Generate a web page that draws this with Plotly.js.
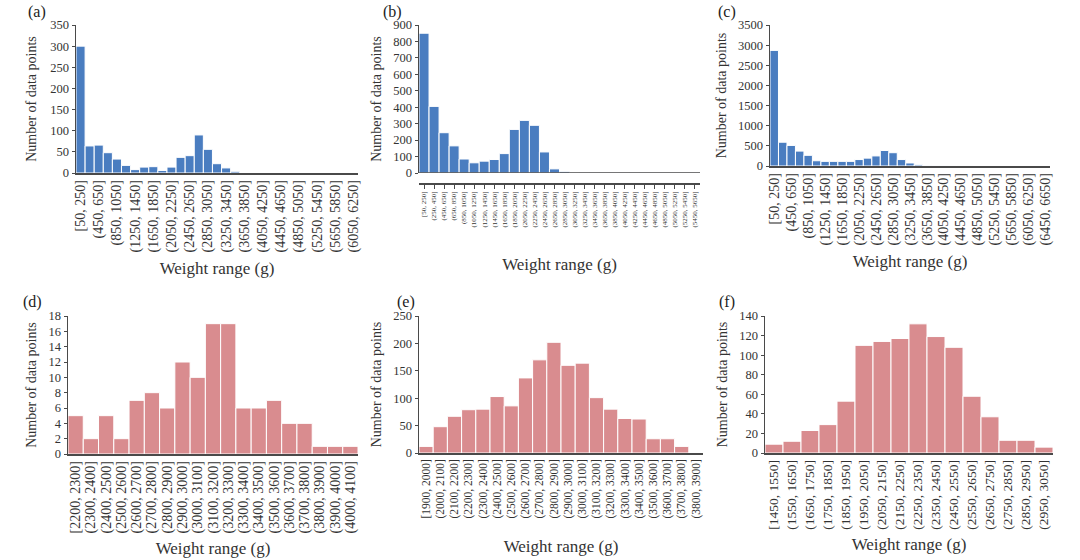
<!DOCTYPE html>
<html>
<head>
<meta charset="utf-8">
<script src="https://cdn.plot.ly/plotly-3.0.1.min.js"></script>
<style>html,body{margin:0;padding:0;background:#fff;}#chart{width:1080px;height:560px;}</style>
</head>
<body>
<div id="chart"></div>
<script>
// Weight-range bin labels for panels (a), (b), (c)
const binsWide = ["[50, 250]","(250, 450]","(450, 650]","(650, 850]","(850, 1050]","(1050, 1250]","(1250, 1450]","(1450, 1650]","(1650, 1850]","(1850, 2050]","(2050, 2250]","(2250, 2450]","(2450, 2650]","(2650, 2850]","(2850, 3050]","(3050, 3250]","(3250, 3450]","(3450, 3650]","(3650, 3850]","(3850, 4050]","(4050, 4250]","(4250, 4450]","(4450, 4650]","(4650, 4850]","(4850, 5050]","(5050, 5250]","(5250, 5450]","(5450, 5650]","(5650, 5850]","(5850, 6050]","(6050, 6250]","(6250, 6450]","(6450, 6650]"];
const catsA = binsWide.slice(0, 31);
const catsB = binsWide.slice(0, 28);
const catsC = binsWide.slice(0, 33);
const catsD = ["[2200, 2300]","(2300, 2400]","(2400, 2500]","(2500, 2600]","(2600, 2700]","(2700, 2800]","(2800, 2900]","(2900, 3000]","(3000, 3100]","(3100, 3200]","(3200, 3300]","(3300, 3400]","(3400, 3500]","(3500, 3600]","(3600, 3700]","(3700, 3800]","(3800, 3900]","(3900, 4000]","(4000, 4100]"];
const catsE = ["[1900, 2000]","(2000, 2100]","(2100, 2200]","(2200, 2300]","(2300, 2400]","(2400, 2500]","(2500, 2600]","(2600, 2700]","(2700, 2800]","(2800, 2900]","(2900, 3000]","(3000, 3100]","(3100, 3200]","(3200, 3300]","(3300, 3400]","(3400, 3500]","(3500, 3600]","(3600, 3700]","(3700, 3800]","(3800, 3900]"];
const catsF = ["[1450, 1550]","(1550, 1650]","(1650, 1750]","(1750, 1850]","(1850, 1950]","(1950, 2050]","(2050, 2150]","(2150, 2250]","(2250, 2350]","(2350, 2450]","(2450, 2550]","(2550, 2650]","(2650, 2750]","(2750, 2850]","(2850, 2950]","(2950, 3050]"];

// Counts (number of data points)
const countsA = [300,64,66,48,33,18,8,14,15,6,14,37,41,90,56,22,12,4,0,0,0,0,0,0,0,0,0,0,0,0,0];
const countsB = [850,405,245,165,85,62,72,82,118,265,320,290,128,25,10,3,2,1,1,1,1,2,1,1,1,1,1,1];
const countsC = [2870,590,510,370,265,130,115,115,115,115,160,195,250,385,330,160,75,30,5,3,2,1,1,1,0,0,0,0,0,0,0,0,0];
const countsD = [5,2,5,2,7,8,6,12,10,17,17,6,6,7,4,4,1,1,1];
const countsE = [12,48,67,79,80,103,86,137,170,202,160,164,101,80,63,62,26,26,12,0];
const countsF = [9,12,23,29,53,110,114,117,132,119,108,58,37,13,13,6];

// Tick labels shown on the crowded axes (every other bin)
const ticksA = catsA.filter((c, i) => i % 2 === 0);
const ticksC = catsC.filter((c, i) => i % 2 === 0);

const panelLabels = ["(a)","(b)","(c)","(d)","(e)","(f)"];
const xTitle = "Weight range (g)";
const yTitle = "Number of data points";

const BLUE = "#4a7dc0";
const PINK = "#d98c8f";
const FONT = "Liberation Serif, Times New Roman, serif";
const W = 1080, H = 560;
const px = v => v / W;
const py = v => 1 - v / H;

function bar(cats, vals, xa, ya, color) {
  return {type: "bar", x: cats, y: vals, xaxis: xa, yaxis: ya,
    marker: {color: color, line: {color: "#ffffff", width: 1}},
    hoverinfo: "x+y", showlegend: false};
}

const data = [
  bar(catsA, countsA, "x", "y", BLUE),
  bar(catsB, countsB, "x2", "y2", BLUE),
  bar(catsC, countsC, "x3", "y3", BLUE),
  bar(catsD, countsD, "x4", "y4", PINK),
  bar(catsE, countsE, "x5", "y5", PINK),
  bar(catsF, countsF, "x6", "y6", PINK)
];

const lineCol = "#4a4a4a";
function xax(dom, anchor, tickvals, fsize, standoff, extra) {
  return Object.assign({
    domain: dom, anchor: anchor, type: "category",
    tickmode: "array", tickvals: tickvals, ticktext: tickvals,
    tickangle: -90, tickfont: {family: FONT, size: fsize, color: "#333"},
    showline: true, linecolor: lineCol, linewidth: 1.5, ticks: "",
    showgrid: false, zeroline: false, automargin: false,
    title: {text: xTitle, font: {family: FONT, size: 17, color: "#333"}, standoff: standoff}
  }, extra || {});
}
function yax(dom, anchor, range, dtick, standoff) {
  return {
    domain: dom, anchor: anchor, range: range, dtick: dtick, tick0: 0,
    tickfont: {family: FONT, size: 12.5, color: "#333"},
    showline: true, linecolor: lineCol, linewidth: 1.5,
    ticks: "outside", ticklen: 3, tickcolor: lineCol,
    showgrid: false, zeroline: false, automargin: false,
    title: {text: yTitle, font: {family: FONT, size: 14, color: "#333"}, standoff: standoff}
  };
}

const annotations = [
  [37, 12], [392, 12], [727, 12], [32, 302], [406, 302], [727, 302]
].map((p, i) => ({
  text: panelLabels[i], xref: "paper", yref: "paper", x: px(p[0]), y: py(p[1]),
  xanchor: "center", yanchor: "middle", showarrow: false,
  font: {family: FONT, size: 16, color: "#222"}
}));

const layout = {
  width: W, height: H, margin: {l: 0, r: 0, t: 0, b: 0},
  paper_bgcolor: "#fff", plot_bgcolor: "rgba(0,0,0,0)",
  bargap: 0, showlegend: false,
  xaxis: xax([px(76), px(358)], "y", ticksA, 14, 10),
  yaxis: yax([py(173), py(25)], "x", [0, 350], 50, 10),
  xaxis2: xax([px(419), px(700)], "free", catsB, 7, 31,
    {position: py(183), ticks: "outside", ticklen: 4, tickcolor: lineCol}),
  yaxis2: yax([py(173), py(25)], "x2", [0, 900], 100, 8),
  xaxis3: xax([px(770), px(1050)], "y3", ticksC, 14, 10),
  yaxis3: yax([py(166), py(25)], "x3", [0, 3500], 500, 8),
  xaxis4: xax([px(68), px(358)], "y4", catsD, 14, 9),
  yaxis4: yax([py(454), py(316)], "x4", [0, 18], 2, 8),
  xaxis5: xax([px(419), px(703)], "y5", catsE, 11.5, 22),
  yaxis5: yax([py(453), py(316)], "x5", [0, 250], 50, 8),
  xaxis6: xax([px(765), px(1053)], "y6", catsF, 13.5, 9),
  yaxis6: yax([py(453), py(316)], "x6", [0, 140], 20, 8),
  shapes: [{type: "line", xref: "x2 domain", yref: "y2", x0: 0, x1: 1, y0: 0, y1: 0,
    line: {color: lineCol, width: 1.5}}],
  annotations: annotations
};

Plotly.newPlot("chart", data, layout, {displayModeBar: false, staticPlot: true});
</script>
</body>
</html>
